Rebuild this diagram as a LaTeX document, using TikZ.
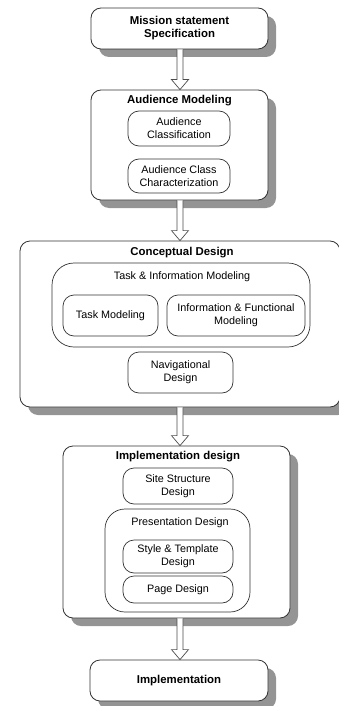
\documentclass[tikz,border=0pt]{standalone}
\usepackage{fontspec}
\setmainfont{Liberation Sans}
\usetikzlibrary{shadows,calc}
\begin{document}
\begin{tikzpicture}[x=1pt,y=1pt,
  outerbox/.style={draw=black!80, line width=0.8pt, fill=white, rounded corners=10pt,
    drop shadow={shadow xshift=8pt, shadow yshift=-8pt, fill=black!42, opacity=1},
    inner sep=0pt, align=center},
  innerbox/.style={draw=black!80, line width=0.7pt, fill=white, rounded corners=11pt,
    inner sep=0pt, align=center, font=\fontsize{10.8}{13}\selectfont},
  boldtxt/.style={font=\fontsize{11.4}{13}\selectfont\bfseries, inner sep=0pt, align=center},
  regtxt/.style={font=\fontsize{10.8}{13}\selectfont, inner sep=0pt, align=center},
  blockarrow/.style={draw=black!70, line width=0.7pt, fill=white}
]
\useasboundingbox (0,0) rectangle (338,-706);

% Mission
\node[outerbox, minimum width=177pt, minimum height=41pt, boldtxt] (m) at (179.5,-28.5)
  {Mission statement\\Specification};

% Audience Modeling
\node[outerbox, minimum width=177pt, minimum height=110pt] (am) at (179.5,-145) {};
\node[boldtxt] (amt) at (179.5,-101) {Audience Modeling};
\node[innerbox, minimum width=102pt, minimum height=35pt] (ac) at (179,-128.5) {Audience\\Classification};
\node[innerbox, minimum width=102pt, minimum height=34pt] (acc) at (179,-176) {Audience Class\\Characterization};

% Conceptual Design
\node[outerbox, minimum width=320pt, minimum height=166pt] (cd) at (180,-324) {};
\node[boldtxt] (cdt) at (182,-252.5) {Conceptual Design};
\node[innerbox, rounded corners=22pt, minimum width=258pt, minimum height=84pt] (tim) at (181,-305) {};
\node[regtxt] (timt) at (182,-277) {Task \& Information Modeling};
\node[innerbox, minimum width=95pt, minimum height=41pt] (tm) at (110.5,-315.5) {Task Modeling};
\node[innerbox, minimum width=138pt, minimum height=41pt] (ifm) at (236,-315.5) {Information \& Functional\\Modeling};
\node[innerbox, minimum width=105pt, minimum height=41pt] (nd) at (180.5,-372.5) {Navigational\\Design};

% Implementation design
\node[outerbox, minimum width=227pt, minimum height=172pt] (id) at (176.5,-532) {};
\node[boldtxt] (idt) at (178,-457) {Implementation design};
\node[innerbox, minimum width=110pt, minimum height=36pt] (ssd) at (178,-486) {Site Structure\\Design};
\node[innerbox, rounded corners=20pt, minimum width=145pt, minimum height=103pt] (pd) at (177.5,-560.5) {};
\node[regtxt] (pdt) at (180,-523) {Presentation Design};
\node[innerbox, minimum width=110pt, minimum height=33pt] (std) at (178,-556.5) {Style \& Template\\Design};
\node[innerbox, minimum width=110pt, minimum height=27pt] (pgd) at (178,-589.5) {Page Design};

% Implementation
\node[outerbox, minimum width=178pt, minimum height=41pt, boldtxt] (im) at (179,-680.5) {Implementation};

% block arrows
\foreach \a/\b in {m/am, am/cd, cd/id, id/im}{
  \draw[blockarrow] let \p1=(\a.south), \p2=(\b.north) in
    (177,\y1) -- (177,\y2+10) -- (171.5,\y2+10) -- (180,\y2) -- (188.5,\y2+10)
    -- (183,\y2+10) -- (183,\y1);
}
\end{tikzpicture}
\end{document}
